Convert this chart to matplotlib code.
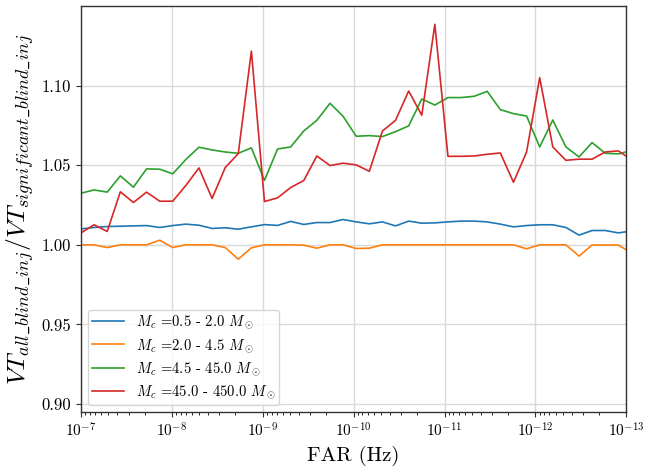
import matplotlib
matplotlib.use('Agg')
import matplotlib.pyplot as plt
from matplotlib.ticker import FormatStrFormatter

# ---------------------------- datos ---------------------------------------- #

FAR = [1.00e-7, 7.18e-8, 5.15e-8, 3.69e-8, 2.65e-8, 1.90e-8, 1.36e-8,
       9.79e-9, 7.02e-9, 5.04e-9, 3.61e-9, 2.59e-9, 1.86e-9, 1.334e-9,
       9.58e-10, 6.87e-10, 4.93e-10, 3.54e-10, 2.54e-10, 1.82e-10, 1.306e-10,
       9.37e-11, 6.72e-11, 4.82e-11, 3.46e-11, 2.48e-11, 1.78e-11, 1.278e-11,
       9.17e-12, 6.58e-12, 4.72e-12, 3.39e-12, 2.43e-12, 1.743e-12, 1.251e-12,
       8.97e-13, 6.44e-13, 4.62e-13, 3.31e-13, 2.38e-13, 1.706e-13, 1.224e-13,
       8.78e-14]

VT_BIN1 = [1.0100, 1.0109, 1.0115, 1.0117, 1.0119, 1.0121, 1.0109, 1.0121,
           1.0130, 1.0123, 1.0103, 1.0107, 1.0098, 1.0113, 1.0127, 1.0122,
           1.0147, 1.0128, 1.0140, 1.0140, 1.0159, 1.0144, 1.0132, 1.0144,
           1.0119, 1.0149, 1.0136, 1.0138, 1.0144, 1.0149, 1.0149, 1.0144,
           1.0130, 1.0113, 1.0121, 1.0126, 1.0126, 1.0109, 1.0061, 1.0090,
           1.0090, 1.0075, 1.0087]

VT_BIN2 = [1.0000, 1.0000, 0.9983, 1.0000, 1.0000, 1.0000, 1.0029, 0.9983,
           1.0000, 1.0000, 1.0000, 0.9983, 0.9910, 0.9981, 1.0000, 1.0000,
           1.0000, 0.9998, 0.9979, 1.0000, 1.0000, 0.9977, 0.9979, 1.0000,
           1.0000, 1.0000, 1.0000, 1.0000, 1.0000, 1.0000, 1.0000, 1.0000,
           1.0000, 1.0000, 0.9975, 1.0000, 1.0000, 1.0000, 0.9929, 0.9999,
           0.9999, 0.9999, 0.9948]

VT_BIN3 = [1.0324, 1.0345, 1.0331, 1.0433, 1.0362, 1.0477, 1.0475, 1.0446,
           1.0536, 1.0613, 1.0596, 1.0583, 1.0575, 1.0609, 1.0405, 1.0602,
           1.0615, 1.0715, 1.0782, 1.0889, 1.0807, 1.0682, 1.0686, 1.0680,
           1.0711, 1.0747, 1.0916, 1.0878, 1.0925, 1.0925, 1.0933, 1.0964,
           1.0849, 1.0824, 1.0809, 1.0615, 1.0784, 1.0615, 1.0552, 1.0642,
           1.0575, 1.0571, 1.0593]

VT_BIN4 = [1.0075, 1.0126, 1.0084, 1.0333, 1.0266, 1.0331, 1.0274, 1.0274,
           1.0373, 1.0483, 1.0291, 1.0485, 1.0573, 1.1217, 1.0272, 1.0295,
           1.0360, 1.0404, 1.0558, 1.0498, 1.0513, 1.0502, 1.0462, 1.0715,
           1.0782, 1.0966, 1.0814, 1.1385, 1.0556, 1.0556, 1.0558, 1.0569,
           1.0577, 1.0393, 1.0583, 1.1050, 1.0615, 1.0531, 1.0538, 1.0538,
           1.0583, 1.0590, 1.0535]

LABELS = [r"$M_c$ =0.5 - 2.0 $M_\odot$",
          r"$M_c$ =2.0 - 4.5 $M_\odot$",
          r"$M_c$ =4.5 - 45.0 $M_\odot$",
          r"$M_c$ =45.0 - 450.0 $M_\odot$"]

COLORS = ["#1f77b4", "#ff7f0e", "#2ca02c", "#d62728"]

# ---------------------------- estilo --------------------------------------- #

plt.rcParams['font.family'] = 'serif'
plt.rcParams['font.serif'] = ['cmr10', 'DejaVu Serif']
plt.rcParams['mathtext.fontset'] = 'cm'
plt.rcParams['axes.formatter.use_mathtext'] = True
plt.rcParams['axes.unicode_minus'] = False

# ---------------------------- figura --------------------------------------- #

fig, ax = plt.subplots(figsize=(6.47, 4.70), dpi=100)
fig.subplots_adjust(left=0.1252, right=0.968, top=0.9872, bottom=0.1234)

for vals, lab, col in zip([VT_BIN1, VT_BIN2, VT_BIN3, VT_BIN4], LABELS, COLORS):
    ax.plot(FAR, vals, color=col, lw=1.2, label=lab)

ax.set_xscale('log')
ax.set_xlim(1e-7, 1e-13)
ax.set_ylim(0.895, 1.15)
ax.set_yticks([0.90, 0.95, 1.00, 1.05, 1.10])
ax.yaxis.set_major_formatter(FormatStrFormatter('%.2f'))

ax.grid(True, which='major', color='#d9d9d9', lw=1.0)
ax.set_axisbelow(True)
for sp in ax.spines.values():
    sp.set_color('#333333')
    sp.set_linewidth(1.0)

ax.tick_params(axis='both', which='major', labelsize=12, direction='out',
               length=3.5, width=0.8, color='#333333')
ax.tick_params(axis='x', which='major', labelsize=11)
ax.tick_params(axis='x', which='minor', direction='out', length=2, width=0.6)
ax.tick_params(top=False, right=False)

ax.set_xlabel("FAR (Hz)", fontsize=15)
ax.set_ylabel(r"$VT_{all\_blind\_inj}/VT_{significant\_blind\_inj}$", fontsize=18.5)

ax.legend(loc='lower left', fontsize=10.5, handlelength=2.2, borderpad=0.25,
          labelspacing=0.4, framealpha=0.8)

fig.savefig("out.png", dpi=100)
plt.close(fig)
